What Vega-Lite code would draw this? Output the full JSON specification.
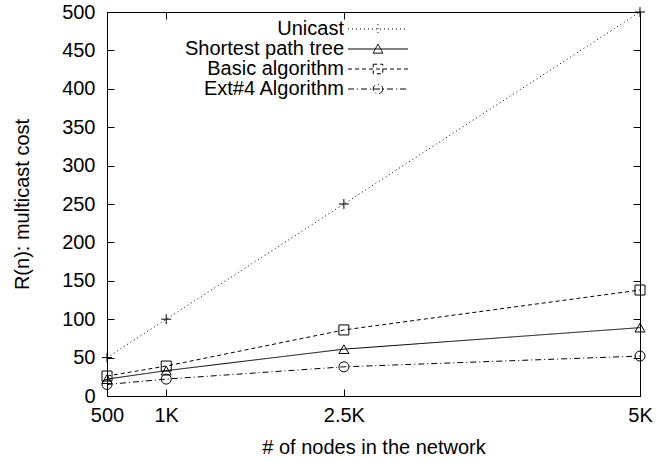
{
  "$schema": "https://vega.github.io/schema/vega-lite/v6.json",
  "width": 533,
  "height": 384,
  "autosize": "none",
  "padding": {"left": 107, "top": 12, "right": 30, "bottom": 65},
  "config": {
    "font": "Liberation Sans",
    "view": {"stroke": "black", "strokeWidth": 1},
    "axis": {"domain": false, "grid": false, "ticks": true, "tickColor": "black", "tickOpacity": 1, "tickWidth": 1, "labelFlush": false, "labelColor": "black", "titleColor": "black", "labelFontSize": 20, "titleFontSize": 20, "titleFontWeight": "normal", "labelFont": "Liberation Sans", "titleFont": "Liberation Sans"},
    "legend": {"labelFont": "Liberation Sans", "labelFontSize": 20, "labelColor": "black"}
  },
  "data": {
    "values": [
      {"series": "Unicast", "n": 500, "cost": 50},
      {"series": "Unicast", "n": 1000, "cost": 100},
      {"series": "Unicast", "n": 2500, "cost": 250},
      {"series": "Unicast", "n": 5000, "cost": 500},
      {"series": "Shortest path tree", "n": 500, "cost": 22},
      {"series": "Shortest path tree", "n": 1000, "cost": 33},
      {"series": "Shortest path tree", "n": 2500, "cost": 61},
      {"series": "Shortest path tree", "n": 5000, "cost": 89},
      {"series": "Basic algorithm", "n": 500, "cost": 26},
      {"series": "Basic algorithm", "n": 1000, "cost": 39},
      {"series": "Basic algorithm", "n": 2500, "cost": 86},
      {"series": "Basic algorithm", "n": 5000, "cost": 138},
      {"series": "Ext#4 Algorithm", "n": 500, "cost": 15},
      {"series": "Ext#4 Algorithm", "n": 1000, "cost": 22},
      {"series": "Ext#4 Algorithm", "n": 2500, "cost": 38},
      {"series": "Ext#4 Algorithm", "n": 5000, "cost": 52}
    ]
  },
  "layer": [
    {
      "mark": {"type": "line", "color": "black", "strokeWidth": 1},
      "encoding": {
        "x": {"field": "n", "type": "quantitative", "scale": {"domain": [500, 5000], "nice": false, "zero": false},
              "axis": {"orient": "bottom", "values": [500, 1000, 2500, 5000], "labelExpr": "datum.value == 500 ? '500' : (datum.value / 1000) + 'K'", "ticks": true, "tickSize": -7, "labelPadding": 16, "labelFlush": false, "title": "# of nodes in the network", "titlePadding": 12}},
        "y": {"field": "cost", "type": "quantitative", "scale": {"domain": [0, 500], "nice": false},
              "axis": {"orient": "left", "values": [0, 50, 100, 150, 200, 250, 300, 350, 400, 450, 500], "ticks": true, "tickSize": -7, "labelPadding": 19, "labelFlush": false, "title": "R(n): multicast cost", "titlePadding": 29}},
        "strokeDash": {"field": "series", "type": "nominal", "legend": null,
          "scale": {"domain": ["Unicast", "Shortest path tree", "Basic algorithm", "Ext#4 Algorithm"], "range": [[1, 3], [1, 0], [4, 3], [6, 3, 1, 3]]}},
        "detail": {"field": "series"}
      }
    },
    {
      "mark": {"type": "point", "filled": false, "color": "black", "strokeWidth": 1, "size": 100, "opacity": 1},
      "encoding": {
        "x": {"field": "n", "type": "quantitative", "axis": {"orient": "top", "values": [500, 1000, 2500, 5000], "labels": false, "ticks": true, "tickSize": -7, "title": null}},
        "y": {"field": "cost", "type": "quantitative", "axis": {"orient": "right", "values": [0, 50, 100, 150, 200, 250, 300, 350, 400, 450, 500], "labels": false, "ticks": true, "tickSize": -7, "title": null}},
        "shape": {"field": "series", "type": "nominal", "legend": null,
          "scale": {"domain": ["Unicast", "Shortest path tree", "Basic algorithm", "Ext#4 Algorithm"], "range": ["M-1,0L1,0M0,-1L0,1", "triangle-up", "square", "circle"]}}
      }
    },
    {
      "mark": {"type": "point", "filled": false, "color": "black", "strokeWidth": 1, "size": 324, "opacity": 0},
      "encoding": {
        "x": {"field": "n", "type": "quantitative", "axis": null},
        "y": {"field": "cost", "type": "quantitative", "axis": null},
        "shape": {"field": "series", "type": "nominal", "title": null,
          "scale": {"domain": ["Unicast", "Shortest path tree", "Basic algorithm", "Ext#4 Algorithm"],
                    "range": ["M-3.33,0L3.33,0M0,-0.55L0,0.55", "M-3.33,0L3.33,0M-0.55,0.46L0.55,0.46L0,-0.55Z", "M-3.33,0L3.33,0M-0.53,-0.53L0.53,-0.53L0.53,0.53L-0.53,0.53Z", "M-3.33,0L3.33,0M0.53,0A0.53,0.53,0,1,1,-0.53,0A0.53,0.53,0,1,1,0.53,0"]},
          "legend": {"orient": "none", "legendX": 261, "legendY": 7, "symbolSize": 324, "symbolOpacity": 1, "symbolStrokeColor": "black", "symbolFillColor": "transparent", "symbolStrokeWidth": 1, "labelAlign": "right", "labelOffset": -44, "rowPadding": -1, "labelLimit": 300}},
        "strokeDash": {"field": "series", "type": "nominal", "title": null,
          "scale": {"domain": ["Unicast", "Shortest path tree", "Basic algorithm", "Ext#4 Algorithm"], "range": [[1, 3], [1, 0], [4, 3], [6, 3, 1, 3]]}}
      }
    }
  ],
  "resolve": {"axis": {"x": "independent", "y": "independent"}, "scale": {"shape": "independent", "strokeDash": "independent"}}
}
